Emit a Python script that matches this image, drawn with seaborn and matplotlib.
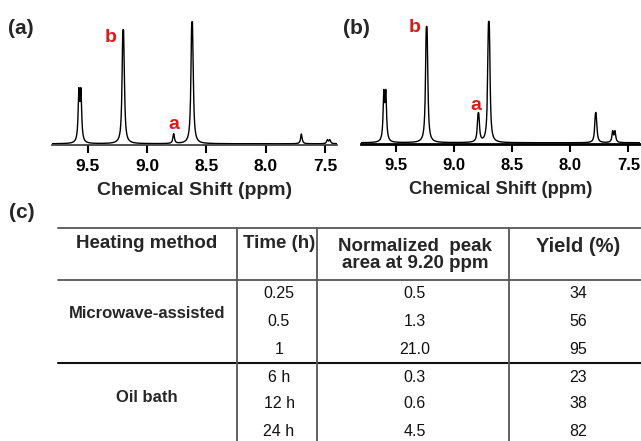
import numpy as np
import pandas as pd
import matplotlib
matplotlib.use("Agg")
import matplotlib.pyplot as plt
import seaborn as sns

# ---------------- data ----------------
# NMR peaks (ppm, relative intensity, doublet splitting ppm)
peaks_a_ppm = [9.565, 9.200, 8.775, 8.620, 7.700, 7.470]
peaks_a_int = [46, 93.5, 8, 100, 8, 3.5]
peaks_a_J = [0.017, 0.009, 0.0, 0.009, 0.0, 0.02]

peaks_b_ppm = [9.595, 9.235, 8.790, 8.700, 7.780, 7.625]
peaks_b_int = [44, 96, 24, 100, 25, 10]
peaks_b_J = [0.017, 0.009, 0.008, 0.009, 0.008, 0.02]

ppm_ticks = [9.5, 9.0, 8.5, 8.0, 7.5]

heating_methods = ["Microwave-assisted", "Oil bath"]
times = ["0.25", "0.5", "1", "6 h", "12 h", "24 h"]
norm_areas = ["0.5", "1.3", "21.0", "0.3", "0.6", "4.5"]
yields = ["34", "56", "95", "23", "38", "82"]
headers = ["Heating method", "Time (h)", "Normalized  peak\narea at 9.20 ppm", "Yield (%)"]

# ---------------- style ----------------
sns.set_theme(style="white")
plt.rcParams["font.family"] = ["Liberation Sans", "DejaVu Sans"]

W, H = 641, 441
fig = plt.figure(figsize=(W / 100, H / 100), dpi=100)


def rect(l, t, r, b):
    return [l / W, 1 - b / H, (r - l) / W, (b - t) / H]


def spectrum(pos, ints, J, grid, hw=0.0075):
    y = np.zeros_like(grid)
    for p, h, j in zip(pos, ints, J):
        lines = [p] if j == 0 else [p - j / 2, p + j / 2]
        shape = np.zeros_like(grid)
        for c in lines:
            shape += hw ** 2 / ((grid - c) ** 2 + hw ** 2)
        y += h * shape / shape.max()
    return y


grid = np.linspace(7.4, 9.8, 6001)
df_a = pd.DataFrame({"ppm": grid, "I": spectrum(peaks_a_ppm, peaks_a_int, peaks_a_J, grid)})
df_b = pd.DataFrame({"ppm": grid, "I": spectrum(peaks_b_ppm, peaks_b_int, peaks_b_J, grid)})

axA = fig.add_axes(rect(52, 12, 337, 145))
axB = fig.add_axes(rect(361, 12, 640, 144))

for ax, df, sw, sc, fs_lab, fs_tick in [(axA, df_a, 1.2, "#333333", 14, 12.5),
                                        (axB, df_b, 2.0, "black", 13.2, 12)]:
    sns.lineplot(data=df, x="ppm", y="I", ax=ax, color="black", lw=1.0)
    ax.set_xlim(9.8, 7.4)
    ax.set_ylim(-1, 108)
    for s in ["left", "top", "right"]:
        ax.spines[s].set_visible(False)
    ax.spines["bottom"].set_linewidth(sw)
    ax.spines["bottom"].set_color(sc)
    ax.set_yticks([])
    ax.set_ylabel("")
    ax.set_xticks(ppm_ticks)
    ax.set_xticklabels([f"{t:.1f}" for t in ppm_ticks], fontweight="bold", fontsize=fs_tick)
    ax.tick_params(axis="x", direction="out", length=6, width=1.5, pad=4, bottom=True, colors="black")
    ax.set_xlabel("Chemical Shift (ppm)", fontweight="bold", fontsize=fs_lab, labelpad=6)
    ax.patch.set_alpha(0)

red = "#e01818"
axA.text(9.303, 87.5, "b", color=red, fontweight="bold", fontsize=14, ha="center", va="center")
axA.text(8.773, 15.4, "a", color=red, fontweight="bold", fontsize=14, ha="center", va="center")
axB.text(9.335, 94.8, "b", color=red, fontweight="bold", fontsize=14, ha="center", va="center")
axB.text(8.811, 31.2, "a", color=red, fontweight="bold", fontsize=14, ha="center", va="center")

# panel letters
fig.text(8 / W, 1 - 28 / H, "(a)", fontweight="bold", fontsize=15, ha="left", va="center")
fig.text(343 / W, 1 - 28 / H, "(b)", fontweight="bold", fontsize=15, ha="left", va="center")
fig.text(9 / W, 1 - 213 / H, "(c)", fontweight="bold", fontsize=15, ha="left", va="center")

# ---------------- table ----------------
axT = fig.add_axes([0, 0, 1, 1], zorder=-1)
axT.set_xlim(0, W)
axT.set_ylim(H, 0)
axT.axis("off")

axT.plot([58, W], [228, 228], color="#555555", lw=1.3)
axT.plot([58, W], [280, 280], color="#555555", lw=1.3)
axT.plot([58, W], [363, 363], color="#111111", lw=1.5)
for xv in [237, 317, 509]:
    axT.plot([xv, xv], [228, H], color="#555555", lw=1.3)

col_x = [147, 279, 415, 578]
axT.text(col_x[0], 244, headers[0], fontweight="bold", fontsize=13.5, ha="center", va="center")
axT.text(col_x[1], 244, headers[1], fontweight="bold", fontsize=13.5, ha="center", va="center")
axT.text(col_x[2], 255, headers[2], fontweight="bold", fontsize=13.5, ha="center", va="center",
         linespacing=1.05)
axT.text(col_x[3], 247, headers[3], fontweight="bold", fontsize=14.5, ha="center", va="center")

row_y = [294, 322, 349, 377, 404, 431]
for y, t, a, yl in zip(row_y, times, norm_areas, yields):
    axT.text(col_x[1], y, t, fontsize=11.5, ha="center", va="center", color="#111111")
    axT.text(col_x[2], y, a, fontsize=11.5, ha="center", va="center", color="#111111")
    axT.text(col_x[3], y, yl, fontsize=11.5, ha="center", va="center", color="#111111")

axT.text(col_x[0], 314, heating_methods[0], fontweight="bold", fontsize=12, ha="center", va="center")
axT.text(col_x[0], 397, heating_methods[1], fontweight="bold", fontsize=12, ha="center", va="center")

fig.savefig("out.png", dpi=100)
